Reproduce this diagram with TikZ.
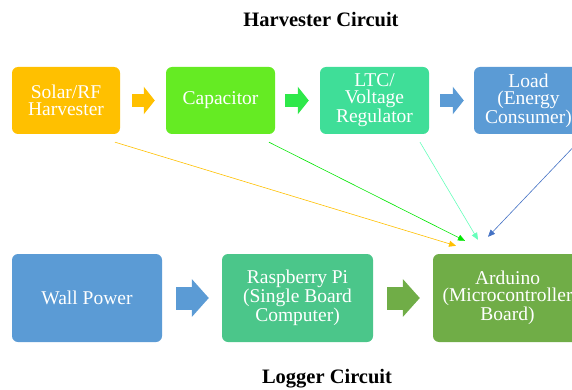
\documentclass[tikz,border=0pt]{standalone}
\usepackage{fontspec}
\setmainfont{Liberation Serif}
\usetikzlibrary{arrows.meta}

\definecolor{solarcol}{HTML}{FFC000}
\definecolor{capcol}{HTML}{65EB23}
\definecolor{capgreen}{HTML}{2EE84A}
\definecolor{ltccol}{HTML}{3FDE98}
\definecolor{loadcol}{HTML}{5B9BD5}
\definecolor{raspcol}{HTML}{4BC68A}
\definecolor{ardcol}{HTML}{70AD47}
\definecolor{thinaqua}{HTML}{66FFBB}
\definecolor{thinblue}{HTML}{4472C4}
\definecolor{thingreen}{HTML}{00E600}

\tikzset{
    box/.style={rounded corners=6pt, text=white, align=center, inner sep=0pt,
        font=\fontsize{19.5}{17}\selectfont},
    smallbox/.style={box, minimum width=109pt, minimum height=67pt},
    bigbox/.style={box, minimum width=150pt, minimum height=88pt},
    smallarrow/.style={line width=13pt, -{Triangle[length=11pt,width=27pt]}},
    bigarrow/.style={line width=23pt, -{Triangle[length=17pt,width=37pt]}},
    thin/.style={line width=0.6pt, -{Triangle[length=7pt,width=6pt]}},
    title/.style={font=\fontsize{20.5}{22}\selectfont\bfseries}
}

\begin{document}
\begin{tikzpicture}[x=1pt,y=-1pt]

    \useasboundingbox (0,0) rectangle (572,390);
    \clip (0,0) rectangle (572,390);

    \node (harv) [title] at (321,20) {Harvester Circuit};
    \node (logg) [title] at (327,379) {Logger Circuit};

    \node (solar) [smallbox,fill=solarcol,minimum width=108pt] at (66,100.5) {Solar/RF\\Harvester};
    \node (cap)   [smallbox,fill=capcol]  at (220.5,100.5) {Capacitor};
    \node (ltc)   [smallbox,fill=ltccol]  at (374.5,100.5) {LTC/\\Voltage\\Regulator};
    \node (load)  [smallbox,fill=loadcol] at (528.5,100.5) {Load\\(Energy\\Consumer)};

    \node (wall)  [bigbox,fill=loadcol] at (87,298) {Wall Power};
    \node (rasp)  [bigbox,fill=raspcol,minimum width=151pt] at (297.5,298) {Raspberry Pi\\(Single Board\\Computer)};
    \node (ard)   [bigbox,fill=ardcol,minimum width=149pt]  at (507.5,298) {Arduino\\(Microcontroller\\Board)};

    \draw[smallarrow,solarcol,shorten <=12pt,shorten >=11pt] (solar.east) -- (cap.west);
    \draw[smallarrow,capgreen,shorten <=10pt,shorten >=11pt] (cap.east) -- (ltc.west);
    \draw[smallarrow,loadcol,shorten <=11pt,shorten >=10pt]  (ltc.east) -- (load.west);

    \draw[bigarrow,loadcol,shorten <=14pt,shorten >=13pt] (wall.east) -- (rasp.west);
    \draw[bigarrow,ardcol,shorten <=14pt,shorten >=13pt]  (rasp.east) -- (ard.west);

    \draw[thin,solarcol]  ([shift={(49,8)}]solar.south) -- ([shift={(-51.5,-8)}]ard.north);
    \draw[thin,thingreen] ([shift={(48.5,8)}]cap.south) -- ([shift={(-42.5,-13)}]ard.north);
    \draw[thin,thinaqua]  ([shift={(45.5,8)}]ltc.south) -- ([shift={(-29.5,-14)}]ard.north);
    \draw[thin,thinblue]  ([shift={(49.5,8)}]load.south) -- ([shift={(-19.5,-17)}]ard.north);

\end{tikzpicture}
\end{document}
